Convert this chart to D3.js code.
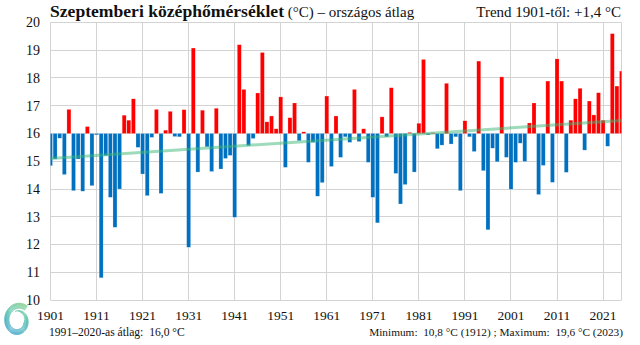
<!DOCTYPE html>
<html><head><meta charset="utf-8">
<script src="https://cdn.jsdelivr.net/npm/d3@7"></script>
<style>
html,body{margin:0;padding:0;background:#fff;}
svg{display:block;font-family:"Liberation Serif","Times New Roman",serif;}
</style></head><body>
<svg id="c" width="640" height="345"></svg>
<script>
// September mean temperature, Hungary (°C), 1901–2025
const temps = [
 14.84,15.08,15.83,14.52,16.87,13.94,15.08,13.92,16.25,14.12,
 15.95,10.80,15.20,13.70,12.62,14.00,16.66,16.48,17.25,15.50,
 14.54,13.76,15.86,16.87,13.84,16.12,16.80,15.89,15.88,16.86,
 11.90,19.08,14.61,16.84,15.52,14.63,16.91,14.72,15.10,15.21,
 12.98,19.20,17.59,15.56,15.82,17.46,18.92,16.42,16.63,16.17,
 17.32,14.78,16.57,17.10,15.74,16.06,14.96,15.68,13.74,14.23,
 17.35,14.81,16.63,15.14,15.88,15.68,17.59,15.71,16.17,14.96,
 13.70,12.78,16.60,15.88,17.65,14.56,13.46,14.16,16.04,14.61,
 16.37,18.67,15.95,16.03,15.45,15.58,17.81,15.62,15.88,13.94,
 16.46,15.88,15.35,18.61,14.66,12.53,15.47,14.98,18.04,15.14,
 13.99,14.96,15.65,14.99,16.38,17.10,13.80,14.85,17.89,14.24,
 18.69,17.89,14.60,16.48,17.25,17.63,15.40,17.17,16.67,17.47,
 16.48,15.54,19.60,17.71,18.25
];
const years = d3.range(1901, 1901 + temps.length);
const xTickYears = [1901,1911,1921,1931,1941,1951,1961,1971,1981,1991,2001,2011,2021];
const yTicks = [10,11,12,13,14,15,16,17,18,19,20];
const baseline = 16.0;
const trendYears = [1901, 2025];
const trendValues = [15.1, 16.47];

const svg = d3.select("#c");
const L = 50.5, R = 621.5, T = 22.5, B = 300;
const x = d3.scaleLinear().domain([1901, 2025]).range([L, R]);
const y = d3.scaleLinear().domain([10, 20]).range([B, T]);
const crisp = v => Math.round(v - 0.5) + 0.5;

// gridlines
const grid = svg.append("g").attr("stroke", "#d3d3d3").attr("stroke-width", 1);
grid.selectAll("line.h").data(yTicks).join("line")
  .attr("x1", L).attr("x2", R)
  .attr("y1", d => crisp(y(d))).attr("y2", d => crisp(y(d)));
grid.selectAll("line.v").data(xTickYears.concat([2025])).join("line")
  .attr("y1", T).attr("y2", B)
  .attr("x1", d => crisp(x(d))).attr("x2", d => crisp(x(d)));

// bars
svg.append("clipPath").attr("id", "plot").append("rect")
  .attr("x", L).attr("y", 0).attr("width", R - L).attr("height", B);
const bw = 4.0;
svg.append("g").attr("clip-path", "url(#plot)")
  .selectAll("rect").data(years).join("rect")
  .attr("x", (d) => x(d) - bw / 2)
  .attr("width", bw)
  .attr("y", (d, i) => Math.min(y(temps[i]), y(baseline)))
  .attr("height", (d, i) => Math.abs(y(temps[i]) - y(baseline)))
  .attr("fill", (d, i) => temps[i] >= baseline ? "#ff0000" : "#0070c0")
  .attr("stroke", "rgba(255,255,255,0.45)")
  .attr("stroke-width", 0.5);

// trend line
svg.append("line")
  .attr("x1", x(trendYears[0])).attr("y1", y(trendValues[0]))
  .attr("x2", x(trendYears[1])).attr("y2", y(trendValues[1]))
  .attr("stroke", "#3cb878").attr("stroke-opacity", 0.5).attr("stroke-width", 3);

// y labels
svg.append("g").selectAll("text").data(yTicks).join("text")
  .attr("x", 40).attr("y", d => y(d)).attr("dy", "0.35em")
  .attr("text-anchor", "end").attr("font-size", 14).attr("fill", "#111")
  .text(d => d);

// x labels
svg.append("g").selectAll("text").data(xTickYears).join("text")
  .attr("x", d => x(d)).attr("y", 320)
  .attr("text-anchor", "middle").attr("font-size", 13.5).attr("fill", "#111")
  .text(d => d);

// title
const title = svg.append("text").attr("x", 50).attr("y", 16.5).attr("fill", "#111");
title.append("tspan").attr("font-weight", "bold").attr("font-size", 17.6).text("Szeptemberi középhőmérséklet");
title.append("tspan").attr("font-size", 15).text(" (°C) – országos átlag");

svg.append("text").attr("x", 621).attr("y", 16.5).attr("text-anchor", "end")
  .attr("font-size", 15).attr("fill", "#111").text("Trend 1901-től: +1,4 °C");

svg.append("text").attr("x", 49).attr("y", 336).attr("font-size", 11.6).attr("fill", "#111")
  .text("1991–2020-as átlag:  16,0 °C").style("white-space", "pre");
svg.append("text").attr("x", 623).attr("y", 335.5).attr("text-anchor", "end")
  .attr("font-size", 11.3).attr("fill", "#111").style("white-space", "pre")
  .text("Minimum:  10,8 °C (1912) ; Maximum:  19,6 °C (2023)");

// logo (swirl)
const defs = svg.append("defs");
const lg = defs.append("linearGradient").attr("id", "lg")
  .attr("gradientUnits", "userSpaceOnUse")
  .attr("x1", 30).attr("y1", 299).attr("x2", 10).attr("y2", 340);
lg.append("stop").attr("offset", "0%").attr("stop-color", "#9ad67a");
lg.append("stop").attr("offset", "45%").attr("stop-color", "#3fb8a2");
lg.append("stop").attr("offset", "100%").attr("stop-color", "#2a93d6");
const cx = 18, cy = 321;
const logo = svg.append("g").attr("stroke", "url(#lg)").attr("fill", "none").attr("stroke-linecap", "round");
const strands = [0, 1.1, 2.2, 3.3, 4.4, 5.5, 6.6];
strands.forEach((off, k) => {
  const pts = [];
  const start = -0.95, span = 2.3 * Math.PI - k * 0.35;
  for (let t = 0; t <= span; t += 0.04) {
    const a = start - t;
    const r = Math.max(1.5, 18.5 - off * 0.75 - t * 1.35 + (t > 4 ? (t - 4) * 0.4 : 0));
    pts.push([cx + r * Math.cos(a) * 0.85, cy + r * Math.sin(a)]);
  }
  logo.append("path").attr("d", d3.line().curve(d3.curveBasis)(pts))
    .attr("stroke-width", k < 3 ? 1.0 : 0.8);
});
</script>
</body></html>
